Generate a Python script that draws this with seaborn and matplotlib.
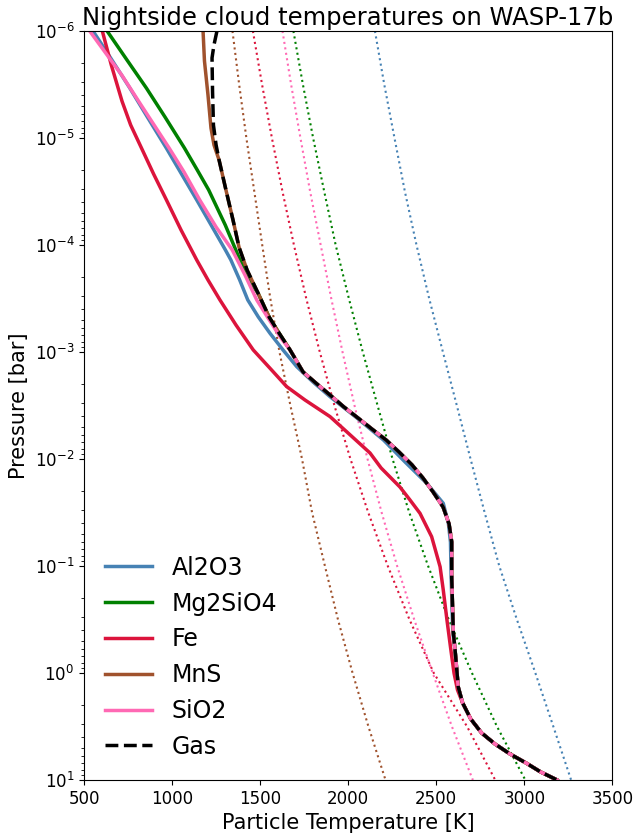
import numpy as np
import matplotlib
matplotlib.use("Agg")
import matplotlib.pyplot as plt
import seaborn as sns

# ---------------- data: log10(pressure / bar) and temperature [K] ----------------
species = ["Al2O3", "Mg2SiO4", "Fe", "MnS", "SiO2"]
colors = {"Al2O3": "#4682B4", "Mg2SiO4": "#008000", "Fe": "#DC143C",
          "MnS": "#A0522D", "SiO2": "#FF69B4"}

# gas temperature profile
gas_logp = [-6.000, -5.869, -5.748, -5.430, -5.121, -4.935, -4.794, -4.514, -4.234, -3.981,
            -3.766, -3.551, -3.327, -3.178, -3.019, -2.813, -2.701, -2.598, -2.486, -2.383,
            -2.280, -2.178, -2.065, -1.944, -1.822, -1.692, -1.551, -1.393, -1.224, -0.888,
            -0.383, -0.215, 0.131, 0.280, 0.430, 0.561, 0.664, 0.757, 0.841, 0.925,
            0.991, 1.000]
gas_T = [1255, 1238, 1227, 1230, 1235, 1250, 1267, 1306, 1346, 1380,
         1426, 1488, 1551, 1607, 1670, 1744, 1823, 1897, 1976, 2056,
         2135, 2215, 2289, 2363, 2425, 2482, 2539, 2573, 2588, 2588,
         2597, 2607, 2625, 2650, 2696, 2758, 2834, 2919, 3010, 3093,
         3175, 3186]

# particle temperatures (upper parts; below the listed range they follow the gas)
al2o3_logp = [-6.000, -5.748, -5.467, -5.187, -4.907, -4.654, -4.421, -4.140, -3.953, -3.860,
              -3.673, -3.486, -3.327, -3.175, -3.019, -2.863, -2.720, -2.582, -2.383, -2.178,
              -1.972, -1.773, -1.586, -1.399, -1.224, -0.888, -0.383]
al2o3_T = [551, 651, 760, 863, 967, 1057, 1140, 1238, 1303, 1334,
           1384, 1430, 1490, 1556, 1630, 1708, 1800, 1897, 2050, 2200,
           2323, 2446, 2540, 2569, 2581, 2585, 2594]

mg2sio4_logp = [-6.000, -5.729, -5.467, -5.196, -4.907, -4.701, -4.514, -4.187, -3.860, -3.610]
mg2sio4_T = [631, 744, 854, 960, 1070, 1143, 1208, 1302, 1386, 1461]

fe_logp = [-6.000, -5.682, -5.343, -5.121, -4.907, -4.664, -4.421, -4.140, -3.860, -3.673,
           -3.486, -3.252, -3.019, -2.832, -2.676, -2.551, -2.396, -2.209, -2.056, -1.916,
           -1.738, -1.617, -1.492, -1.274, -0.993, -0.776, -0.495, -0.243, 0.000, 0.159]
fe_T = [604, 655, 716, 765, 826, 895, 968, 1051, 1140, 1204,
        1272, 1363, 1461, 1565, 1651, 1755, 1897, 2022, 2124, 2187,
        2294, 2351, 2408, 2474, 2522, 2540, 2561, 2581, 2601, 2621]

mns_logp = [-6.000, -5.720, -5.402, -5.093, -4.935]
mns_T = [1176, 1184, 1204, 1221, 1238]

sio2_logp = [-6.000, -5.794, -5.589, -5.308, -4.907, -4.682, -4.421, -4.168, -3.953, -3.720,
             -3.486, -3.318, -3.143]
sio2_T = [532, 623, 714, 824, 983, 1068, 1157, 1250, 1342, 1414,
          1481, 1545, 1613]

# condensation temperature curves (dotted)
cond_logp = [-6.0, -5.5, -5.0, -4.5, -4.0, -3.5, -3.0, -2.5, -2.0, -1.5,
             -1.0, -0.5, 0.0, 0.5, 1.0]
cond_al2o3 = [2152, 2205, 2263, 2322, 2388, 2460, 2538, 2617, 2695, 2775,
              2858, 2958, 3063, 3165, 3266]
cond_mg2sio4 = [1689, 1743, 1801, 1864, 1929, 2004, 2083, 2167, 2252, 2347,
                2454, 2571, 2703, 2845, 3006]
cond_fe = [1459, 1511, 1567, 1627, 1692, 1762, 1839, 1922, 2013, 2114,
           2225, 2348, 2486, 2675, 2835]
cond_mns = [1343, 1381, 1422, 1467, 1512, 1558, 1610, 1672, 1738, 1795,
            1868, 1942, 2025, 2115, 2212]
cond_sio2 = [1627, 1676, 1729, 1784, 1844, 1904, 1968, 2036, 2110, 2190,
             2278, 2375, 2480, 2589, 2708]

x_ticks = [500, 1000, 1500, 2000, 2500, 3000, 3500]
y_ticks = [1e-6, 1e-5, 1e-4, 1e-3, 1e-2, 1e-1, 1e0, 1e1]


def with_gas_tail(logp, T):
    """Continue a particle profile along the gas profile below its last point."""
    lp = list(logp)
    tt = list(T)
    for g_lp, g_T in zip(gas_logp, gas_T):
        if g_lp > lp[-1] + 1e-9:
            lp.append(g_lp)
            tt.append(g_T)
    return np.array(lp), np.array(tt)


particle = {
    "Al2O3": with_gas_tail(al2o3_logp, al2o3_T),
    "Mg2SiO4": with_gas_tail(mg2sio4_logp, mg2sio4_T),
    "Fe": with_gas_tail(fe_logp, fe_T),
    "MnS": with_gas_tail(mns_logp, mns_T),
    "SiO2": with_gas_tail(sio2_logp, sio2_T),
}
condensation = {
    "Al2O3": cond_al2o3,
    "Mg2SiO4": cond_mg2sio4,
    "Fe": cond_fe,
    "MnS": cond_mns,
    "SiO2": cond_sio2,
}

# ---------------- plot ----------------
fig = plt.figure(figsize=(6.34, 8.35), dpi=100)
ax = fig.add_subplot(111)
fig.subplots_adjust(left=0.1325, right=0.9658, top=0.9629, bottom=0.0659)

for sp in species:
    sns.lineplot(x=condensation[sp], y=10.0 ** np.array(cond_logp), ax=ax,
                 color=colors[sp], lw=1.5, linestyle=":", sort=False,
                 estimator=None, label="_nolegend_")

for sp in species:
    lp, T = particle[sp]
    sns.lineplot(x=T, y=10.0 ** lp, ax=ax, color=colors[sp], lw=2.5,
                 sort=False, estimator=None, label=sp)

sns.lineplot(x=gas_T, y=10.0 ** np.array(gas_logp), ax=ax, color="black", lw=2.5,
             linestyle="--", sort=False, estimator=None, label="Gas")

ax.set_yscale("log")
ax.set_yticks(y_ticks)
ax.set_ylim(1e1, 1e-6)
ax.set_xticks(x_ticks)
ax.set_xlim(500, 3500)
ax.tick_params(axis="both", labelsize=12)
ax.set_xlabel("Particle Temperature [K]", fontsize=15)
ax.set_ylabel("Pressure [bar]", fontsize=15)
ax.set_title("Nightside cloud temperatures on WASP-17b", fontsize=17.5, pad=4)
ax.legend(loc="lower left", frameon=False, fontsize=17)

fig.savefig("out.png", dpi=100)
